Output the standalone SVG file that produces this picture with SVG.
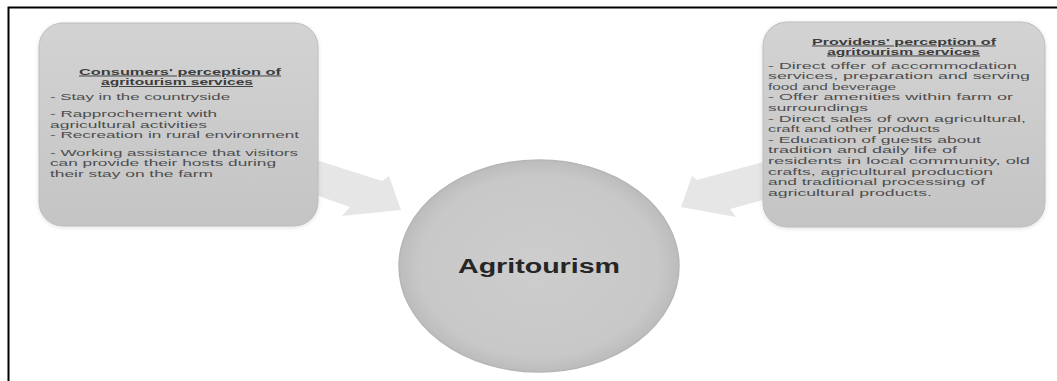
<svg xmlns="http://www.w3.org/2000/svg" width="1057" height="381" viewBox="0 0 1057 381">
  <style>
    .frame { stroke: #000; stroke-width: 2; fill: none; }
    .box { fill: url(#boxFill); stroke: #bcbcbc; stroke-width: 1; filter: url(#soft); }
    .arrow { fill: #e6e6e6; }
    .hub { fill: url(#hubFill); stroke: #b6b6b6; stroke-width: 1.5; }
    .title { font-family: "Liberation Sans", Arial, sans-serif; font-size: 9.5px; font-weight: bold; fill: #3c3c3c; text-decoration: underline; }
    .item { font-family: "Liberation Sans", Arial, sans-serif; font-size: 9.5px; fill: #4e4e4e; }
    .hubLabel { font-family: "Liberation Sans", Arial, sans-serif; font-size: 20px; font-weight: bold; fill: #262626; }
  </style>
  <defs>
    <linearGradient id="boxFill" x1="0" y1="0" x2="0" y2="1">
      <stop offset="0" stop-color="#d3d3d3"/>
      <stop offset="1" stop-color="#c4c4c4"/>
    </linearGradient>
    <radialGradient id="hubFill" cx="0.5" cy="0.5" r="0.5">
      <stop offset="0" stop-color="#cdcdcd"/>
      <stop offset="0.85" stop-color="#c8c8c8"/>
      <stop offset="1" stop-color="#bcbcbc"/>
    </radialGradient>
    <filter id="soft" x="-10%" y="-10%" width="120%" height="120%">
      <feDropShadow dx="0" dy="1" stdDeviation="2" flood-color="#000" flood-opacity="0.12"/>
    </filter>
  </defs>

  <rect width="1057" height="381" fill="#fff"/>
  <!-- page frame (top and left edges) -->
  <path class="frame" d="M8.5 381 V7.5 H1057"/>

  <!-- connectors: block arrows pointing into the hub -->
  <g id="connectors">
    <polygon class="arrow" points="310,158 382,181 389,176 401,210 342,216 350,207 310,193"/>
    <polygon class="arrow" points="770,160 697,180 692,176 681,207 736,217 730,209 770,198"/>
  </g>

  <g id="consumers">
    <rect class="box" x="39" y="23" width="279" height="203" rx="24"/>
    <text class="title" x="79" y="74.5" textLength="202" lengthAdjust="spacingAndGlyphs">Consumers' perception of</text>
    <text class="title" x="101" y="85" textLength="152" lengthAdjust="spacingAndGlyphs">agritourism services</text>
    <text class="item" x="50" y="99.5" textLength="180" lengthAdjust="spacingAndGlyphs">- Stay in the countryside</text>
    <text class="item" x="50" y="117" textLength="167" lengthAdjust="spacingAndGlyphs">- Rapprochement with</text>
    <text class="item" x="50" y="127.5" textLength="157" lengthAdjust="spacingAndGlyphs">agricultural activities</text>
    <text class="item" x="50" y="138" textLength="249" lengthAdjust="spacingAndGlyphs">- Recreation in rural environment</text>
    <text class="item" x="50" y="155.5" textLength="248" lengthAdjust="spacingAndGlyphs">- Working assistance that visitors</text>
    <text class="item" x="50" y="166" textLength="226" lengthAdjust="spacingAndGlyphs">can provide their hosts during</text>
    <text class="item" x="50" y="176.5" textLength="163" lengthAdjust="spacingAndGlyphs">their stay on the farm</text>
  </g>

  <g id="providers">
    <rect class="box" x="763" y="22" width="282" height="205" rx="24"/>
    <text class="title" x="812" y="44.5" textLength="184" lengthAdjust="spacingAndGlyphs">Providers' perception of</text>
    <text class="title" x="827" y="54.5" textLength="153" lengthAdjust="spacingAndGlyphs">agritourism services</text>
    <text class="item" x="768" y="68.5" textLength="249" lengthAdjust="spacingAndGlyphs">- Direct offer of accommodation</text>
    <text class="item" x="768" y="79.1" textLength="262" lengthAdjust="spacingAndGlyphs">services, preparation and serving</text>
    <text class="item" x="768" y="89.7" textLength="128" lengthAdjust="spacingAndGlyphs">food and beverage</text>
    <text class="item" x="768" y="100.3" textLength="245" lengthAdjust="spacingAndGlyphs">- Offer amenities within farm or</text>
    <text class="item" x="768" y="110.9" textLength="100" lengthAdjust="spacingAndGlyphs">surroundings</text>
    <text class="item" x="768" y="121.5" textLength="258" lengthAdjust="spacingAndGlyphs">- Direct sales of own agricultural,</text>
    <text class="item" x="768" y="132.1" textLength="172" lengthAdjust="spacingAndGlyphs">craft and other products</text>
    <text class="item" x="768" y="142.7" textLength="213" lengthAdjust="spacingAndGlyphs">- Education of guests about</text>
    <text class="item" x="768" y="153.3" textLength="189" lengthAdjust="spacingAndGlyphs">tradition and daily life of</text>
    <text class="item" x="768" y="163.9" textLength="262" lengthAdjust="spacingAndGlyphs">residents in local community, old</text>
    <text class="item" x="768" y="174.5" textLength="225" lengthAdjust="spacingAndGlyphs">crafts, agricultural production</text>
    <text class="item" x="768" y="185.1" textLength="217" lengthAdjust="spacingAndGlyphs">and traditional processing of</text>
    <text class="item" x="768" y="195.7" textLength="164" lengthAdjust="spacingAndGlyphs">agricultural products.</text>
  </g>

  <g id="agritourism">
    <ellipse class="hub" cx="539" cy="266" rx="140" ry="106"/>
    <text class="hubLabel" x="458" y="273" textLength="162" lengthAdjust="spacingAndGlyphs">Agritourism</text>
  </g>
</svg>
